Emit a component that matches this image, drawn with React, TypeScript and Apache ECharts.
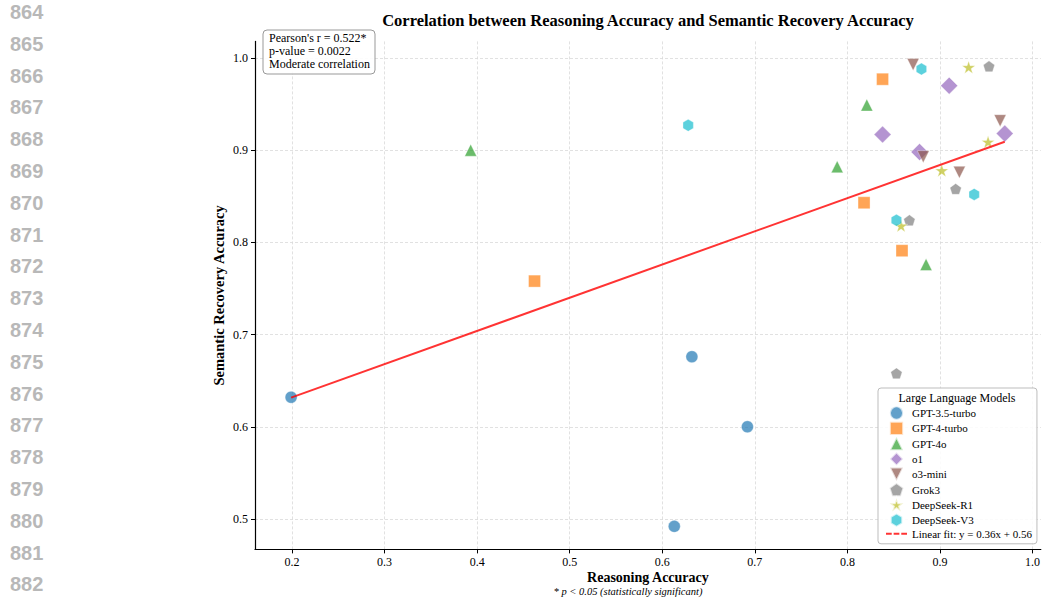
import React, { useEffect, useRef } from 'react';
import * as echarts from 'echarts';

// ---------- data ----------
const modelNames = ['GPT-3.5-turbo', 'GPT-4-turbo', 'GPT-4o', 'o1', 'o3-mini', 'Grok3', 'DeepSeek-R1', 'DeepSeek-V3'];

const gpt35Reasoning = [0.199, 0.632, 0.692, 0.613];
const gpt35Semantic = [0.632, 0.676, 0.600, 0.492];
const gpt4tReasoning = [0.462, 0.838, 0.818, 0.859];
const gpt4tSemantic = [0.758, 0.977, 0.843, 0.791];
const gpt4oReasoning = [0.393, 0.821, 0.789, 0.885];
const gpt4oSemantic = [0.900, 0.949, 0.882, 0.776];
const o1Reasoning = [0.838, 0.910, 0.878, 0.970];
const o1Semantic = [0.917, 0.970, 0.898, 0.918];
const o3Reasoning = [0.871, 0.965, 0.882, 0.921];
const o3Semantic = [0.993, 0.932, 0.893, 0.876];
const grokReasoning = [0.953, 0.917, 0.867, 0.853];
const grokSemantic = [0.991, 0.858, 0.824, 0.658];
const dsr1Reasoning = [0.931, 0.952, 0.902, 0.858];
const dsr1Semantic = [0.990, 0.909, 0.878, 0.818];
const dsv3Reasoning = [0.880, 0.628, 0.937, 0.853];
const dsv3Semantic = [0.988, 0.927, 0.852, 0.824];

const reasoningByModel = [gpt35Reasoning, gpt4tReasoning, gpt4oReasoning, o1Reasoning, o3Reasoning, grokReasoning, dsr1Reasoning, dsv3Reasoning];
const semanticByModel = [gpt35Semantic, gpt4tSemantic, gpt4oSemantic, o1Semantic, o3Semantic, grokSemantic, dsr1Semantic, dsv3Semantic];

const fitSlope = 0.36;
const fitIntercept = 0.56;
const fitLabel = 'Linear fit: y = 0.36x + 0.56';

const xTicks = [0.2, 0.3, 0.4, 0.5, 0.6, 0.7, 0.8, 0.9, 1.0];
const yTicks = [0.5, 0.6, 0.7, 0.8, 0.9, 1.0];

const statsLines = ["Pearson's r = 0.522*", 'p-value = 0.0022', 'Moderate correlation'];
const lineNumbers = ['864', '865', '866', '867', '868', '869', '870', '871', '872', '873', '874', '875', '876', '877', '878', '879', '880', '881', '882'];

// ---------- styling ----------
const colors = ['#1f77b4', '#ff7f0e', '#2ca02c', '#9467bd', '#8c564b', '#7f7f7f', '#bcbd22', '#17becf'];
const FONT = '"Liberation Serif", "Times New Roman", serif';

function regularPath(n: number, inner?: number): string {
  const pts: string[] = [];
  const count = inner ? n * 2 : n;
  for (let i = 0; i < count; i++) {
    const r = inner && i % 2 === 1 ? inner : 1;
    const a = -Math.PI / 2 + (i * 2 * Math.PI) / count;
    pts.push((r * Math.cos(a)).toFixed(4) + ',' + (r * Math.sin(a)).toFixed(4));
  }
  return 'path://M' + pts.join('L') + 'Z';
}

const S = 12;
const symbols: any[] = [
  { symbol: 'circle', size: S },
  { symbol: 'path://M-1,-1L1,-1L1,1L-1,1Z', size: [S, S] },
  { symbol: 'path://M0,-1L1,1L-1,1Z', size: [S, S] },
  { symbol: 'path://M0,-1L1,0L0,1L-1,0Z', size: [S * 1.414, S * 1.414] },
  { symbol: 'path://M-1,-1L1,-1L0,1Z', size: [S, S] },
  { symbol: regularPath(5), size: [S * 0.951, S * 0.905] },
  { symbol: regularPath(5, 0.381966), size: [S * 0.951 * 1.15, S * 0.905 * 1.15] },
  { symbol: regularPath(6), size: [S * 0.866, S] },
];
const dashIcon = 'path://M0,0h6v2.2h-6zM8,0h6v2.2h-6zM16,0h6v2.2h-6z';

export default function App() {
  const ref = useRef<HTMLDivElement>(null);

  useEffect(() => {
    if (!ref.current) return;
    const chart = echarts.init(ref.current, null, { renderer: 'svg' });

    const allX = reasoningByModel.flat();
    const xMin = Math.min(...allX);
    const xMax = Math.max(...allX);

    const scatterSeries = modelNames.map((name, i) => ({
      type: 'scatter',
      name,
      symbol: symbols[i].symbol,
      symbolSize: symbols[i].size,
      data: reasoningByModel[i].map((x, j) => [x, semanticByModel[i][j]]),
      itemStyle: { color: colors[i], opacity: 0.7, borderColor: '#ffffff', borderWidth: 0.5 },
      z: 2,
    }));

    const fitSeries = {
      type: 'line',
      name: fitLabel,
      data: [
        [xMin, fitSlope * xMin + fitIntercept],
        [xMax, fitSlope * xMax + fitIntercept],
      ],
      symbol: 'none',
      showSymbol: false,
      lineStyle: { color: '#ff0000', width: 2, opacity: 0.8 },
      itemStyle: { color: '#ff0000', opacity: 0.8 },
      z: 3,
    };

    const axisCommon = {
      type: 'value',
      axisLine: { show: true, lineStyle: { color: '#000', width: 1.2 } },
      axisTick: { show: true, length: 4, lineStyle: { color: '#000', width: 1 } },
      axisLabel: { color: '#000', fontFamily: FONT, fontSize: 12, margin: 7, formatter: (v: number) => v.toFixed(1) },
      splitLine: { show: true, lineStyle: { color: '#d9d9d9', type: [3, 2], width: 0.8 } },
      nameTextStyle: { fontFamily: FONT, fontSize: 14.5, fontWeight: 'bold', color: '#000' },
      nameMoveOverlap: false,
    };

    chart.setOption({
      animation: false,
      backgroundColor: '#ffffff',
      textStyle: { fontFamily: FONT },
      grid: { left: 255, right: 2, top: 41.4, bottom: 50.6, containLabel: false },
      xAxis: {
        ...axisCommon,
        min: 0.16,
        max: 1.009,
        axisTick: { ...axisCommon.axisTick, customValues: xTicks },
        axisLabel: { ...axisCommon.axisLabel, customValues: xTicks },
        name: 'Reasoning Accuracy',
        nameLocation: 'middle',
        nameGap: 22,
        nameTextStyle: { ...axisCommon.nameTextStyle, fontSize: 14, lineHeight: 13 },
      },
      yAxis: {
        ...axisCommon,
        min: 0.467,
        max: 1.018,
        axisTick: { ...axisCommon.axisTick, customValues: yTicks },
        axisLabel: { ...axisCommon.axisLabel, customValues: yTicks },
        name: 'Semantic Recovery Accuracy',
        nameLocation: 'middle',
        nameGap: 29,
      },
      legend: {
        orient: 'vertical',
        left: 878,
        top: 388,
        padding: [17.4, 5, 4, 8],
        itemWidth: 21,
        itemHeight: 13.3,
        itemGap: 0,
        itemTextGap: 9,
        symbolKeepAspect: true,
        backgroundColor: 'rgba(255,255,255,0.85)',
        borderColor: '#bdbdbd',
        borderWidth: 1,
        borderRadius: 3,
        textStyle: { fontFamily: FONT, fontSize: 11, color: '#000', lineHeight: 12 },
        data: [
          ...modelNames.map((n) => ({ name: n })),
          { name: fitLabel, icon: dashIcon, itemStyle: { color: '#ff0000', opacity: 0.8 } },
        ],
      },
      graphic: [
        ...lineNumbers.map((t, i) => ({
          type: 'text',
          left: 10,
          top: 2 + i * 31.8,
          z: 100,
          style: { text: t, fill: '#b8b8b8', font: 'bold 20px "Liberation Sans", Arial, sans-serif' },
        })),
        {
          type: 'text',
          x: 648,
          y: 20,
          z: 100,
          style: {
            text: 'Correlation between Reasoning Accuracy and Semantic Recovery Accuracy',
            fill: '#000',
            font: 'bold 16.5px ' + FONT,
            textAlign: 'center',
            textVerticalAlign: 'middle',
          },
        },
        {
          type: 'rect',
          z: 100,
          shape: { x: 263, y: 30, width: 112, height: 44, r: 4 },
          style: { fill: 'rgba(255,255,255,0.9)', stroke: '#999', lineWidth: 1 },
        },
        {
          type: 'text',
          x: 269,
          y: 32,
          z: 101,
          style: { text: statsLines.join('\n'), fill: '#000', font: '12px ' + FONT, lineHeight: 12.6 },
        },
        {
          type: 'text',
          x: 957,
          y: 398,
          z: 101,
          style: { text: 'Large Language Models', fill: '#000', font: '12px ' + FONT, textAlign: 'center', textVerticalAlign: 'middle' },
        },
        {
          type: 'text',
          x: 628,
          y: 591,
          z: 100,
          style: {
            text: '* p < 0.05 (statistically significant)',
            fill: '#000',
            font: 'italic 10.5px ' + FONT,
            lineHeight: 10,
            textAlign: 'center',
            textVerticalAlign: 'middle',
          },
        },
      ],
      series: [...scatterSeries, fitSeries],
    });

    return () => chart.dispose();
  }, []);

  return <div ref={ref} style={{ position: 'absolute', left: 0, top: 0, width: 1043, height: 600 }} />;
}
